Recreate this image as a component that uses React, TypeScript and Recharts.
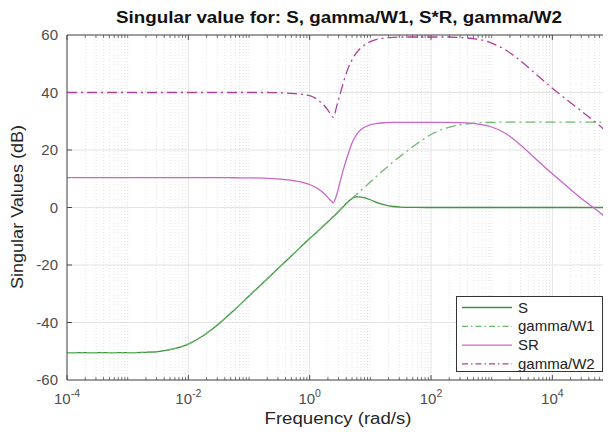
import React from 'react';
import { LineChart, Line, XAxis, YAxis, CartesianGrid, ReferenceLine } from 'recharts';

// log10 of the frequency (rad/s) at each sample
const exponents = [
  -4, -3.5, -3, -2.75, -2.5, -2.25, -2, -1.75, -1.5, -1.25, -1, -0.75, -0.5, -0.25,
  0, 0.125, 0.25, 0.33, 0.39, 0.45, 0.5, 0.56, 0.625, 0.69, 0.75, 0.81, 0.875,
  1, 1.125, 1.25, 1.375, 1.5, 1.75, 2, 2.25, 2.5, 2.75, 3, 3.25, 3.5, 3.75, 4, 4.25, 4.5, 4.75, 5,
];

// singular values in dB
const sensitivity = [
  -50.5, -50.5, -50.5, -50.4, -50.1, -49.2, -47.5, -44.5, -40.5, -35.8, -30.8, -25.8, -20.8, -15.8,
  -10.8, -8.4, -6.0, -4.4, -3.2, -2.0, -0.9, 0.4, 1.8, 3.0, 3.6, 3.7, 3.5,
  2.7, 1.6, 0.8, 0.35, 0.15, 0.05, 0, 0, 0, 0, 0, 0, 0, 0, 0, 0, 0, 0, 0,
];
const gammaOverW1 = [
  -50.5, -50.5, -50.5, -50.4, -50.1, -49.2, -47.5, -44.5, -40.5, -35.8, -30.8, -25.8, -20.8, -15.8,
  -10.8, -8.3, -5.8, -4.2, -3.0, -1.8, -0.8, 0.4, 1.7, 3.0, 4.1, 5.3, 6.5,
  8.9, 11.3, 13.6, 15.8, 17.9, 21.9, 25.4, 27.6, 28.8, 29.4, 29.6, 29.7, 29.7, 29.7, 29.7, 29.7, 29.7, 29.7, 29.7,
];
const sTimesR = [
  10.4, 10.4, 10.4, 10.4, 10.4, 10.4, 10.4, 10.4, 10.4, 10.35, 10.3, 10.2, 9.9, 9.3,
  8.0, 6.7, 4.6, 2.8, 1.7, 4.8, 8.8, 13.5, 18.0, 22.0, 24.6, 26.4, 27.6,
  28.8, 29.3, 29.5, 29.6, 29.6, 29.6, 29.6, 29.6, 29.5, 29.1, 28.0, 25.5, 21.3, 16.4, 11.7, 7.2, 2.8, -1.2, -5.6,
];
const gammaOverW2 = [
  40, 40, 40, 40, 40, 40, 40, 40, 40, 40, 40, 40, 39.9, 39.6,
  38.9, 37.6, 35.2, 33.0, 31.4, 35.6, 39.3, 43.8, 47.9, 51.0, 53.2, 54.8, 56.0,
  57.7, 58.6, 59.0, 59.2, 59.3, 59.3, 59.3, 59.3, 59.1, 58.6, 57.2, 54.5, 50.6, 46.0, 41.5, 37.3, 33.2, 29.0, 24.4,
];

const xTicks = [1e-4, 1e-2, 1, 1e2, 1e4];
const yTicks = [-60, -40, -20, 0, 20, 40, 60];

const data = exponents.map((e, i) => ({
  f: Math.pow(10, e),
  S: sensitivity[i],
  W1: gammaOverW1[i],
  SR: sTimesR[i],
  W2: gammaOverW2[i],
}));

const COLORS = { S: '#3f953f', W1: '#6cb86c', SR: '#c966c9', W2: '#ad3f9c' };
const FONT = '"Liberation Sans", Arial, Helvetica, sans-serif';
const AXIS = '#4a4a4a';
const TEXT = '#4d4d4d';
const DASHDOT = '10 4 2 4';

// minor log grid: 2..9 in each decade, plus the unlabelled decades
const minorX: number[] = [];
for (let d = -4; d <= 4; d++) {
  for (let k = 1; k <= 9; k++) {
    const v = k * Math.pow(10, d);
    if (k === 1 && d % 2 === 0) continue;
    if (v < 1e5) minorX.push(v);
  }
}

const XTick = (props: any) => {
  const { x, y, payload } = props;
  const exp = Math.round(Math.log10(payload.value));
  return (
    <text x={x} y={y + 24} textAnchor="middle" fill={TEXT} fontSize={15} fontFamily={FONT}>
      10<tspan dy={-7} fontSize={10.5}>{String(exp)}</tspan>
    </text>
  );
};

const legendItems = [
  { key: 'S', label: 'S', color: COLORS.S, dash: undefined },
  { key: 'W1', label: 'gamma/W1', color: COLORS.W1, dash: '6 3 1.5 3' },
  { key: 'SR', label: 'SR', color: COLORS.SR, dash: undefined },
  { key: 'W2', label: 'gamma/W2', color: COLORS.W2, dash: '6 3 1.5 3' },
];

export default function App() {
  const W = 610;
  const H = 420;
  return (
    <div style={{ position: 'relative', width: 603, height: H, overflow: 'hidden' }}>
      <LineChart width={W} height={H} data={data} margin={{ top: 27, right: 5, bottom: 0, left: 0 }}>
        <CartesianGrid stroke="#e3e3e3" strokeWidth={1} />
        {minorX.map((v) => (
          <ReferenceLine key={'g' + v} x={v} stroke="#dadada" strokeWidth={0.8} strokeDasharray="1 2" />
        ))}
        <XAxis
          dataKey="f"
          type="number"
          scale="log"
          domain={[1e-4, 1e5]}
          ticks={xTicks}
          allowDataOverflow
          height={48}
          tickLine={false}
          tickSize={0}
          tickMargin={0}
          axisLine={{ stroke: AXIS }}
          tick={<XTick />}
        />
        <YAxis
          type="number"
          domain={[-60, 60]}
          ticks={yTicks}
          width={59}
          tickLine={false}
          tickSize={0}
          tickMargin={9}
          axisLine={{ stroke: AXIS }}
          tick={{ fill: TEXT, fontSize: 15, fontFamily: FONT }}
        />
        <ReferenceLine y={60} stroke={AXIS} />
        {/* inward tick marks on bottom and top edges */}
        {xTicks.map((v) => (
          <ReferenceLine key={'bt' + v} segment={[{ x: v, y: -60 }, { x: v, y: -58.3 }]} stroke={AXIS} />
        ))}
        {xTicks.map((v) => (
          <ReferenceLine key={'tt' + v} segment={[{ x: v, y: 60 }, { x: v, y: 58.3 }]} stroke={AXIS} />
        ))}
        {minorX.map((v) => (
          <ReferenceLine key={'bm' + v} segment={[{ x: v, y: -60 }, { x: v, y: -59 }]} stroke={AXIS} strokeWidth={0.8} />
        ))}
        {minorX.map((v) => (
          <ReferenceLine key={'tm' + v} segment={[{ x: v, y: 60 }, { x: v, y: 59 }]} stroke={AXIS} strokeWidth={0.8} />
        ))}
        {yTicks.slice(1, -1).map((v) => (
          <ReferenceLine key={'yt' + v} segment={[{ x: 1e-4, y: v }, { x: 1.21e-4, y: v }]} stroke={AXIS} />
        ))}
        <Line type="monotone" dataKey="S" stroke={COLORS.S} strokeWidth={1.3} dot={false} isAnimationActive={false} />
        <Line type="monotone" dataKey="W1" stroke={COLORS.W1} strokeWidth={1.3} strokeDasharray={DASHDOT} dot={false} isAnimationActive={false} />
        <Line type="monotone" dataKey="SR" stroke={COLORS.SR} strokeWidth={1.3} dot={false} isAnimationActive={false} />
        <Line type="monotone" dataKey="W2" stroke={COLORS.W2} strokeWidth={1.3} strokeDasharray={DASHDOT} dot={false} isAnimationActive={false} />
      </LineChart>
      <svg
        width={603}
        height={H}
        style={{ position: 'absolute', left: 0, top: 0, pointerEvents: 'none' }}
      >
        <text
          x={331}
          y={15}
          textAnchor="middle"
          fontSize={16}
          fontWeight="bold"
          fontFamily={FONT}
          fill="#111"
          textLength={446}
          lengthAdjust="spacingAndGlyphs"
        >
          Singular value for: S, gamma/W1, S*R, gamma/W2
        </text>
        <text
          x={330}
          y={416}
          textAnchor="middle"
          fontSize={16}
          fontFamily={FONT}
          fill="#262626"
          textLength={147}
          lengthAdjust="spacingAndGlyphs"
        >
          Frequency (rad/s)
        </text>
        <text
          x={15}
          y={199}
          textAnchor="middle"
          fontSize={16}
          fontFamily={FONT}
          fill="#262626"
          transform="rotate(-90 15 199)"
          textLength={164}
          lengthAdjust="spacingAndGlyphs"
        >
          Singular Values (dB)
        </text>
        <g transform="translate(448 288)">
          <rect x={0.5} y={0.5} width={146} height={75} fill="#fff" stroke="#333" strokeWidth={1} />
          {legendItems.map((it, i) => {
            const cy = 11.5 + i * 18.8;
            return (
              <g key={it.key}>
                <line x1={6} x2={56} y1={cy} y2={cy} stroke={it.color} strokeWidth={1.3} strokeDasharray={it.dash} />
                <text x={62} y={cy + 5} fontSize={15} fontFamily={FONT} fill="#222">{it.label}</text>
              </g>
            );
          })}
        </g>
      </svg>
    </div>
  );
}
